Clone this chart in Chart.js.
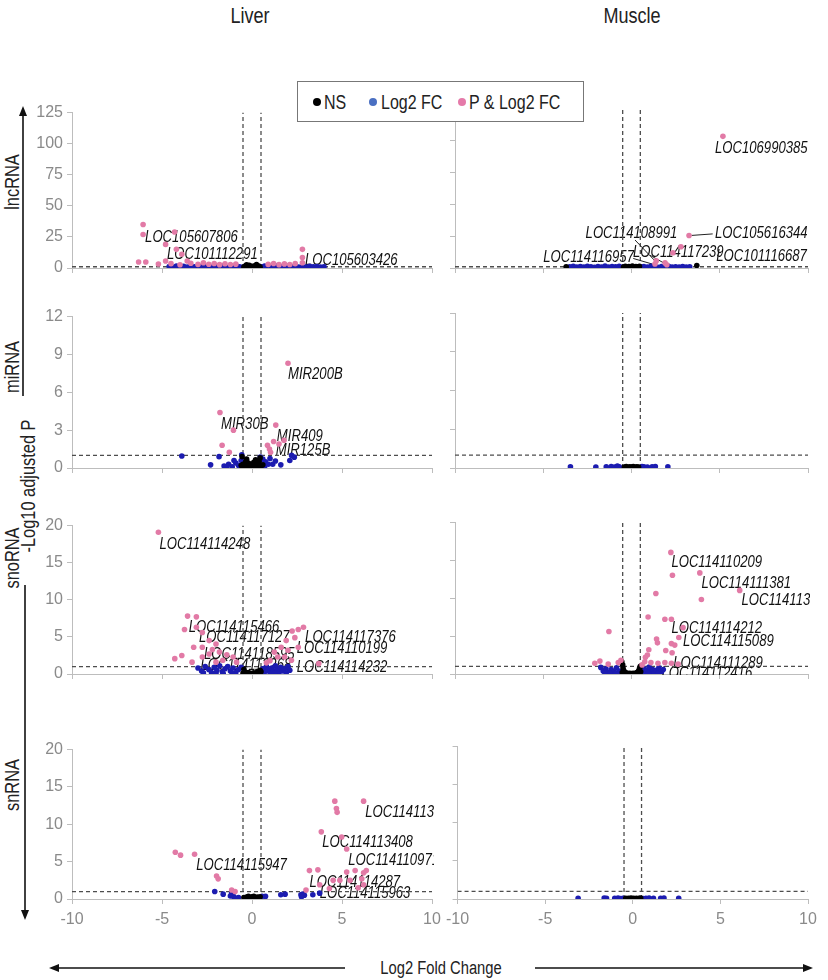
<!DOCTYPE html>
<html>
<head>
<meta charset="utf-8">
<script src="https://cdn.jsdelivr.net/npm/chart.js@4.4.1/dist/chart.umd.min.js"></script>
<style>
  body { margin: 0; background: #fff; }
  #wrap { position: relative; width: 828px; height: 980px; background: #fff; overflow: hidden;
          font-family: "Liberation Sans", Arial, sans-serif; color: #222; }
  canvas { position: absolute; }
  .txt { position: absolute; white-space: nowrap; line-height: 1; }
  .rot { transform: translate(-50%, -50%) rotate(-90deg) scaleX(0.82); }
  .ctr { transform: translate(-50%, -50%) scaleX(0.82); }
  #legend { position: absolute; left: 297px; top: 81px; width: 285px; height: 39px; border: 1px solid #777; background: #fff; }
  #legend .dot { position: absolute; width: 8px; height: 8px; border-radius: 50%; top: 16px; }
  #legend .lab { position: absolute; top: 10px; font-size: 20px; line-height: 1; white-space: nowrap;
                 transform: scaleX(0.8); transform-origin: left center; }
  svg { position: absolute; left: 0; top: 0; }
</style>
</head>
<body>
<div id="wrap">
  <div class="txt ctr" style="left:250px;top:16px;font-size:22px">Liver</div>
  <div class="txt ctr" style="left:632px;top:16px;font-size:22px">Muscle</div>

  <div class="txt rot" style="left:12px;top:182px;font-size:20px">lncRNA</div>
  <div class="txt rot" style="left:12px;top:367px;font-size:20px">miRNA</div>
  <div class="txt rot" style="left:28px;top:486px;font-size:20px">-Log10 adjusted P</div>
  <div class="txt rot" style="left:12px;top:558px;font-size:20px">snoRNA</div>
  <div class="txt rot" style="left:12px;top:785px;font-size:20px">snRNA</div>

  <div class="txt ctr" style="left:441px;top:968px;font-size:18px">Log2 Fold Change</div>

  <svg width="828" height="980">
    <line x1="23" y1="114" x2="23" y2="396" stroke="#111" stroke-width="1.6"/>
    <polygon points="23,106 19,116 27,116" fill="#111"/>
    <line x1="25" y1="585" x2="25" y2="911" stroke="#111" stroke-width="1.6"/>
    <polygon points="25,920 21,910 29,910" fill="#111"/>
    <line x1="58" y1="968" x2="345" y2="968" stroke="#111" stroke-width="1.6"/>
    <polygon points="49,968 59,964 59,972" fill="#111"/>
    <line x1="535" y1="968" x2="804" y2="968" stroke="#111" stroke-width="1.6"/>
    <polygon points="813,968 803,964 803,972" fill="#111"/>
  </svg>

  <canvas id="c_lnc_liver"></canvas>
  <canvas id="c_lnc_muscle"></canvas>
  <canvas id="c_mir_liver"></canvas>
  <canvas id="c_mir_muscle"></canvas>
  <canvas id="c_sno_liver"></canvas>
  <canvas id="c_sno_muscle"></canvas>
  <canvas id="c_sn_liver"></canvas>
  <canvas id="c_sn_muscle"></canvas>

  <div id="legend">
    <span class="dot" style="left:15px;background:#000"></span><span class="lab" style="left:26px">NS</span>
    <span class="dot" style="left:71px;background:#4a6fc2"></span><span class="lab" style="left:83px">Log2 FC</span>
    <span class="dot" style="left:160px;background:#e57aa9"></span><span class="lab" style="left:171px">P &amp; Log2 FC</span>
  </div>
</div>

<script>
// ---- tick values ----
const xTicks = [-10, -5, 0, 5, 10];
const lncTicks = [0, 25, 50, 75, 100, 125];
const mirTicks = [0, 3, 6, 9, 12];
const snoTicks = [0, 5, 10, 15, 20];
const snTicks = [0, 5, 10, 15, 20];

// cutoffs (log2 FC and -log10 p)
const fcCut = [-0.5, 0.5];
const pCut = 1;

// ---- lncRNA / liver ----
const lncLiverNS = [[-0.45,0.8],[-0.38,1.6],[-0.3,0.4],[-0.22,1.2],[-0.15,2.1],[-0.08,0.6],[0,1.4],[0.08,0.9],[0.15,1.8],[0.22,0.5],[0.3,1.1],[0.38,1.5],[0.45,0.7],[-0.3,2.5],[0.25,2.8]];
const lncLiverFC = [[-4.6,1.2],[-4.4,0.8],[-4.2,1.5],[-4.0,0.9],[-3.8,1.3],[-3.6,0.7],[-3.4,1.6],[-3.2,1.0],[-3.0,0.6],[-2.8,1.4],[-2.6,0.9],[-2.4,1.7],[-2.2,0.7],[-2.0,1.2],[-1.8,0.9],[-1.6,1.5],[-1.4,0.6],[-1.2,1.3],[-1.0,0.8],[-0.85,1.6],[-0.7,1.0],[-0.58,0.6],[0.58,0.9],[0.7,1.5],[0.85,0.7],[1.0,1.2],[1.2,0.8],[1.4,1.6],[1.6,1.0],[1.8,0.6],[2.0,1.3],[2.2,0.9],[2.4,1.5],[2.6,0.7],[2.8,1.1],[3.0,0.8],[3.2,1.4],[3.4,0.9],[3.6,1.2],[3.8,0.7],[4.0,1.0]];
const lncLiverSig = [[-6.05,35],[-6.05,27],[-4.3,29],[-4.8,19],[-4.2,15],[-3.9,11],[-6.3,4.8],[-5.9,4.8],[-5.2,3.2],[-4.8,5.6],[-3.6,5.6],[-4.5,3.5],[-4.0,2.6],[-3.4,3.8],[-3.0,2.9],[-2.7,4.2],[-2.4,3.0],[-2.1,3.6],[-1.8,2.7],[-1.5,3.4],[-1.2,2.8],[-0.9,3.1],[0.9,2.9],[1.2,3.6],[1.5,2.7],[1.8,3.3],[2.1,2.8],[2.4,3.5],[2.8,15],[2.8,8.5],[2.8,4.2]];
const lncLiverLabels = [['LOC105607806',-5.94,24.7],['LOC101112291',-4.72,11.1],['LOC105603426',2.94,5.6]];

// ---- lncRNA / muscle ----
const lncMuscleNS = [[-0.45,0.7],[-0.35,1.4],[-0.25,0.5],[-0.15,1.1],[-0.05,0.8],[0.05,1.5],[0.15,0.6],[0.25,1.2],[0.35,0.9],[0.45,1.3],[3.7,2.0],[-3.7,1.0]];
const lncMuscleFC = [[-3.5,0.9],[-3.3,1.3],[-3.1,0.7],[-2.9,1.1],[-2.7,0.8],[-2.5,1.4],[-2.3,0.9],[-2.1,0.6],[-1.9,1.2],[-1.7,0.8],[-1.5,1.5],[-1.3,0.7],[-1.1,1.1],[-0.9,0.9],[-0.7,1.3],[-0.57,0.6],[0.57,0.8],[0.7,1.2],[0.9,0.7],[1.1,1.4],[1.3,0.9],[1.5,0.6],[1.7,1.1],[1.9,0.8],[2.1,1.3],[2.3,0.7],[2.5,1.0],[2.7,0.8],[2.9,1.2],[3.1,0.7],[3.3,0.9]];
const lncMuscleSig = [[5.18,103.5],[3.26,25.5],[2.8,16.7],[2.35,12],[1.9,4],[1.4,5.6],[1.33,3.2],[2.0,2.6]];
const lncMuscleLabels = [['LOC106990385',4.73,94],['LOC105616344',4.73,27],['LOC114108991',-2.6,27],['LOC114116957',-5.0,8.6],['LOC114117239',0.08,12],['LOC101116687',4.8,8.7]];
const lncMuscleLinks = [[3.4,25.6,4.6,26.8],[0.2,22,1.33,5.6],[1.05,10,1.9,3.4],[0.1,7.5,1.2,3.0]];

// ---- miRNA / liver ----
const mirLiverNS = [[-0.5,0.3],[-0.42,0.1],[-0.35,0.5],[-0.28,0.2],[-0.2,0.4],[-0.12,0.05],[-0.05,0.3],[0.02,0.15],[0.1,0.45],[0.18,0.1],[0.25,0.35],[0.32,0.2],[0.4,0.5],[0.48,0.1],[-0.3,0.7],[0.2,0.65],[-0.6,0.2],[0.6,0.25],[-0.55,0.9],[0.45,0.8]];
const mirLiverFC = [[-3.9,0.95],[-1.83,0.9],[-2.3,0.25],[-1.55,0.15],[-1.3,0.3],[-1.1,0.1],[-0.9,0.4],[-0.75,0.2],[-0.6,0.6],[-0.57,1.05],[0.46,0.86],[0.6,0.7],[0.75,0.5],[0.9,0.3],[1.0,0.75],[1.15,0.3],[1.3,0.55],[1.6,0.25],[2.2,1.0],[2.35,0.86],[2.1,0.6],[-1.0,0.6],[-1.4,0.05],[0.7,0.1]];
const mirLiverSig = [[2.0,8.3],[-1.78,4.4],[-1.03,3.0],[1.32,3.4],[1.2,2.1],[1.78,2.2],[0.86,1.8],[0.97,1.5],[1.03,1.25],[-1.66,1.8],[-1.26,1.25],[1.5,1.9]];
const mirLiverLabels = [['MIR200B',2.0,7.4],['MIR30B',-1.72,3.45],['MIR409',1.38,2.5],['MIR125B',1.32,1.4]];

// ---- miRNA / muscle ----
const mirMuscleNS = [[-0.4,0.08],[-0.3,0.12],[-0.2,0.06],[-0.1,0.1],[0,0.08],[0.1,0.12],[0.2,0.06],[0.3,0.1],[0.4,0.08]];
const mirMuscleFC = [[-3.46,0.1],[-2.02,0.08],[-1.43,0.1],[-1.15,0.12],[-0.96,0.08],[-0.69,0.1],[0.7,0.1],[0.9,0.08],[1.17,0.1],[1.35,0.12],[2.06,0.1],[-0.8,0.15],[0.6,0.12]];
const mirMuscleSig = [];
const mirMuscleLabels = [];

// ---- snoRNA / liver ----
const snoLiverNS = [[-0.5,0.1],[-0.4,0.3],[-0.3,0.05],[-0.2,0.2],[-0.1,0.1],[0,0.05],[0.1,0.15],[0.2,0.05],[0.3,0.25],[0.4,0.1],[0.5,0.3],[-0.45,0.6],[0.45,0.5]];
const snoLiverFC = [[-3.0,0.8],[-2.8,0.4],[-2.6,1.0],[-2.4,0.6],[-2.25,0.2],[-2.1,0.9],[-1.95,0.5],[-1.8,1.1],[-1.65,0.3],[-1.5,0.7],[-1.35,1.0],[-1.2,0.4],[-1.05,0.8],[-0.9,0.2],[-0.75,0.6],[-0.6,0.9],[-1.6,0.05],[-2.0,0.1],[-2.7,0.15],[-1.1,0.05],[0.6,0.7],[0.7,0.3],[0.8,1.0],[0.9,0.5],[1.0,0.15],[1.1,0.8],[1.2,0.4],[1.3,1.1],[1.4,0.6],[1.5,0.2],[1.6,0.9],[1.7,0.4],[1.8,0.7],[1.9,0.15],[2.0,1.0],[2.1,0.5],[1.25,0.05],[0.65,0.05]];
const snoLiverSig = [[-5.2,19.1],[-3.58,7.8],[-3.09,7.7],[-3.75,6.0],[-3.09,6.3],[-2.76,5.6],[-2.38,4.5],[-3.24,3.6],[-2.76,3.6],[-2.0,4.05],[-4.29,2.07],[-3.9,2.5],[-3.33,1.6],[-2.76,2.3],[-2.38,2.7],[-1.81,2.95],[-1.62,1.85],[-1.05,2.3],[-2.0,1.6],[-0.86,1.6],[2.23,5.8],[2.57,6.0],[2.86,6.3],[2.38,4.9],[1.9,4.5],[2.57,3.6],[2.0,3.2],[1.62,3.6],[1.81,2.3],[1.43,2.3],[2.19,1.85],[1.24,2.95],[3.71,1.4],[-2.2,3.3],[-1.4,2.6],[1.0,1.8],[0.8,1.5]];
const snoLiverLabels = [['LOC114114248',-5.14,17.5],['LOC114115466',-3.52,6.3],['LOC114117127',-2.95,4.85],['LOC114118595',-2.67,2.65],['LOC114112268',-2.86,1.2],['LOC114117376',2.95,4.9],['LOC114110199',2.48,3.4],['LOC114114232',2.48,0.85]];

// ---- snoRNA / muscle ----
const snoMuscleNS = [[-0.55,1.6],[-0.5,1.2],[-0.48,0.8],[-0.45,0.5],[-0.4,0.3],[-0.3,0.15],[-0.2,0.05],[-0.1,0.1],[0,0.05],[0.1,0.1],[0.2,0.05],[0.3,0.2],[0.4,0.4],[0.45,0.7],[0.5,1.0],[-0.52,0.2],[0.52,0.3]];
const snoMuscleFC = [[-1.74,0.87],[-1.6,0.4],[-1.45,0.7],[-1.3,0.2],[-1.15,0.6],[-1.0,0.3],[-0.85,0.8],[-0.7,0.4],[-0.6,0.1],[-1.2,0.05],[-0.9,0.05],[0.6,0.3],[0.7,0.7],[0.8,0.15],[0.9,0.5],[1.0,0.9],[1.1,0.3],[1.2,0.6],[1.3,0.1],[1.4,0.5],[1.55,0.8],[1.7,0.3],[1.8,0.6],[0.95,0.05],[1.5,0.05],[-1.5,0.1]];
const snoMuscleSig = [[2.23,16.0],[2.32,13.0],[3.87,13.3],[6.13,11.0],[3.96,9.8],[1.38,10.6],[0.94,7.5],[1.89,7.2],[2.26,7.2],[2.92,6.1],[2.68,4.8],[2.26,4.0],[2.45,3.8],[1.42,4.6],[1.47,4.1],[1.94,3.1],[2.3,2.8],[0.98,3.2],[0.9,2.5],[0.79,2.2],[0.75,1.6],[1.5,1.4],[1.89,1.5],[-1.28,5.6],[-1.79,1.7],[-2.08,1.4],[-1.32,1.3],[-0.75,1.5],[-0.6,1.8],[2.26,1.4],[2.64,1.3],[1.1,1.5],[0.6,1.2]];
const snoMuscleLabels = [['LOC114110209',2.26,14.6],['LOC114111381',3.96,11.9],['LOC114113417',6.23,9.7],['LOC114114212',2.26,6.0],['LOC114115089',2.92,4.3],['LOC114111289',2.36,1.4],['LOC114112416',1.7,0.1]];

// ---- snRNA / liver ----
const snLiverNS = [[-0.45,0.2],[-0.3,0.25],[-0.15,0.2],[0,0.3],[0.15,0.2],[0.3,0.25],[0.45,0.3],[-0.2,0.35],[0.1,0.35]];
const snLiverFC = [[-2.07,1.0],[-1.6,0.65],[-1.13,0.78],[-1.03,0.35],[-0.75,0.2],[-0.9,0.1],[1.6,0.56],[1.84,0.65],[2.72,0.56],[2.82,0.65],[2.91,0.5],[2.75,0.3],[3.38,0.56],[3.76,0.78],[0.75,0.35],[0.56,0.35],[-1.2,0.4]];
const snLiverSig = [[4.6,13.1],[6.2,13.1],[4.69,12.1],[4.73,11.6],[3.85,8.99],[4.98,8.3],[5.26,6.7],[5.73,3.8],[6.2,3.5],[6.35,3.8],[5.26,3.6],[6.1,2.7],[6.2,1.9],[3.66,3.9],[3.19,3.8],[4.51,2.5],[4.88,2.5],[5.45,2.5],[3.0,1.2],[3.76,1.9],[-4.26,6.26],[-3.97,5.87],[-3.19,6.0],[-1.97,3.07],[-1.88,2.7],[-1.13,1.2],[-0.94,1.0],[5.9,1.5],[4.3,1.4]];
const snLiverLabels = [['LOC114113417',6.29,11.6],['LOC114113408',3.9,7.5],['LOC114110971',5.35,5.2],['LOC114115947',-3.1,4.5],['LOC114114287',3.19,2.2],['LOC114115963',3.76,0.78]];

// ---- snRNA / muscle ----
const snMuscleNS = [[-0.4,0.1],[-0.25,0.08],[-0.1,0.12],[0.05,0.1],[0.2,0.08],[0.35,0.1],[0.45,0.12]];
const snMuscleFC = [[-3.12,0.1],[-1.63,0.12],[-1.5,0.1],[-1.03,0.1],[-0.84,0.12],[-0.56,0.1],[0.75,0.1],[0.93,0.12],[1.18,0.1],[1.59,0.1],[1.78,0.12],[2.62,0.1],[-0.7,0.06],[0.6,0.06]];
const snMuscleSig = [];
const snMuscleLabels = [];

// ---- layout ----
const FONT = '"Liberation Sans", Arial, sans-serif';
const PINK = '#e27aa6';
const BLUE = '#1c1cb0';
const AXIS = '#bdbdbd';

const cols = {
  liver: { left: 0, width: 452, yAxisW: 72, showY: true },
  muscle: { left: 440, width: 388, yAxisW: 15, showY: false }
};
// xAxisH is reserved space under each plot (tick marks, plus labels on the last row)
const rows = {
  lnc: { top: 99, plotH: 159, xAxisH: 18, ticks: lncTicks, showX: false },
  mir: { top: 303, plotH: 155, xAxisH: 18, ticks: mirTicks, showX: false },
  sno: { top: 512, plotH: 152, xAxisH: 18, ticks: snoTicks, showX: false },
  sn: { top: 736, plotH: 153, xAxisH: 34, ticks: snTicks, showX: true }
};

Chart.defaults.font.family = FONT;

const toXY = arr => arr.map(([x, y]) => ({ x, y }));

// gene names, drawn under the points, squeezed a little like the original
function labelPlugin(labels) {
  return {
    id: 'geneLabels',
    beforeDatasetsDraw(chart) {
      const { ctx, chartArea: a, scales: { x, y } } = chart;
      ctx.save();
      ctx.beginPath();
      ctx.rect(a.left, a.top - 12, a.right - a.left + 2, a.bottom - a.top + 13);
      ctx.clip();
      ctx.font = 'italic 16px ' + FONT;
      ctx.fillStyle = '#111';
      ctx.textBaseline = 'middle';
      ctx.textAlign = 'left';
      labels.forEach(([text, lx, ly]) => {
        ctx.save();
        ctx.translate(x.getPixelForValue(lx), y.getPixelForValue(ly));
        ctx.scale(0.82, 1);
        ctx.fillText(text, 0, 0);
        ctx.restore();
      });
      ctx.restore();
    }
  };
}

function makePanel(id, colKey, rowKey, ns, fc, sig, labels, links) {
  const col = cols[colKey];
  const row = rows[rowKey];
  const canvas = document.getElementById(id);
  canvas.width = col.width;
  canvas.height = 10 + row.plotH + row.xAxisH;
  canvas.style.left = col.left + 'px';
  canvas.style.top = row.top + 'px';
  const yMax = row.ticks[row.ticks.length - 1];

  const pts = { pointRadius: 2.8, borderWidth: 0, pointBorderWidth: 0 };
  const dash = { showLine: true, borderColor: '#4d4d4d', borderWidth: 1.3, borderDash: [4, 3], pointRadius: 0, order: 5 };

  const datasets = [
    Object.assign({ label: 'P & Log2 FC', data: toXY(sig), backgroundColor: PINK, order: 0 }, pts),
    Object.assign({ label: 'NS', data: toXY(ns), backgroundColor: '#000', order: 1 }, pts),
    Object.assign({ label: 'Log2 FC', data: toXY(fc), backgroundColor: BLUE, order: 2 }, pts),
    Object.assign({ data: [{ x: fcCut[0], y: 0 }, { x: fcCut[0], y: yMax }] }, dash),
    Object.assign({ data: [{ x: fcCut[1], y: 0 }, { x: fcCut[1], y: yMax }] }, dash),
    Object.assign({ data: [{ x: xTicks[0], y: pCut }, { x: xTicks[xTicks.length - 1], y: pCut }] }, dash)
  ];
  (links || []).forEach(([x1, y1, x2, y2]) => {
    datasets.push({ data: [{ x: x1, y: y1 }, { x: x2, y: y2 }], showLine: true, borderColor: '#222',
      borderWidth: 1, pointRadius: 0, order: 3 });
  });

  return new Chart(canvas, {
    type: 'scatter',
    data: { datasets },
    options: {
      responsive: false,
      animation: false,
      events: [],
      layout: { padding: { top: 10, right: 20, bottom: 0, left: 0 } },
      plugins: { legend: { display: false }, tooltip: { enabled: false } },
      scales: {
        x: {
          type: 'linear', min: xTicks[0], max: xTicks[xTicks.length - 1],
          afterBuildTicks: s => { s.ticks = xTicks.map(v => ({ value: v })); },
          ticks: { display: row.showX, color: '#8a8a8a', font: { size: 16 }, padding: 6 },
          grid: { drawOnChartArea: false, color: AXIS, tickLength: 5 },
          border: { color: AXIS },
          afterFit: s => { s.height = row.xAxisH; }
        },
        y: {
          type: 'linear', min: row.ticks[0], max: yMax,
          afterBuildTicks: s => { s.ticks = row.ticks.map(v => ({ value: v })); },
          ticks: { display: col.showY, color: '#8a8a8a', font: { size: 16 }, padding: 4 },
          grid: { drawOnChartArea: false, color: AXIS, tickLength: 5 },
          border: { color: AXIS },
          afterFit: s => { s.width = col.yAxisW; }
        }
      }
    },
    plugins: [labelPlugin(labels)]
  });
}

makePanel('c_lnc_liver', 'liver', 'lnc', lncLiverNS, lncLiverFC, lncLiverSig, lncLiverLabels);
makePanel('c_lnc_muscle', 'muscle', 'lnc', lncMuscleNS, lncMuscleFC, lncMuscleSig, lncMuscleLabels, lncMuscleLinks);
makePanel('c_mir_liver', 'liver', 'mir', mirLiverNS, mirLiverFC, mirLiverSig, mirLiverLabels);
makePanel('c_mir_muscle', 'muscle', 'mir', mirMuscleNS, mirMuscleFC, mirMuscleSig, mirMuscleLabels);
makePanel('c_sno_liver', 'liver', 'sno', snoLiverNS, snoLiverFC, snoLiverSig, snoLiverLabels);
makePanel('c_sno_muscle', 'muscle', 'sno', snoMuscleNS, snoMuscleFC, snoMuscleSig, snoMuscleLabels);
makePanel('c_sn_liver', 'liver', 'sn', snLiverNS, snLiverFC, snLiverSig, snLiverLabels);
makePanel('c_sn_muscle', 'muscle', 'sn', snMuscleNS, snMuscleFC, snMuscleSig, snMuscleLabels);
</script>
</body>
</html>
